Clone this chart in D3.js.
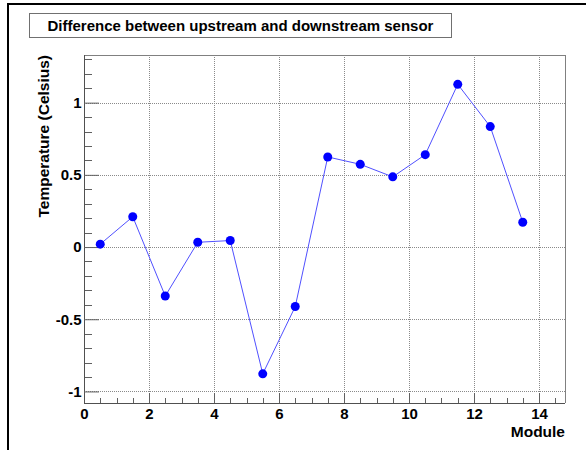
<!DOCTYPE html>
<html>
<head>
<meta charset="utf-8">
<script src="https://cdn.jsdelivr.net/npm/d3@7"></script>
<style>
  html, body { margin: 0; padding: 0; background: #fff; }
  svg { display: block; }
  text { font-family: "Liberation Sans", Arial, Helvetica, sans-serif; font-weight: bold; }
</style>
</head>
<body>
<svg id="chart" width="586" height="450"></svg>
<script>
// ---- data ----
const modules = [0.5, 1.5, 2.5, 3.5, 4.5, 5.5, 6.5, 7.5, 8.5, 9.5, 10.5, 11.5, 12.5, 13.5];
const diffs   = [0.02, 0.21, -0.339, 0.033, 0.045, -0.878, -0.412, 0.624, 0.573, 0.486, 0.640, 1.127, 0.834, 0.172];
const xTicks = [0, 2, 4, 6, 8, 10, 12, 14];
const xTickLabels = ["0", "2", "4", "6", "8", "10", "12", "14"];
const yTicks = [-1, -0.5, 0, 0.5, 1];
const yTickLabels = ["-1", "-0.5", "0", "0.5", "1"];
const titleText = "Difference between upstream and downstream sensor";
const xTitle = "Module";
const yTitle = "Temperature (Celsius)";

(function () {
const svg = d3.select("#chart");
const pL = 84, pR = 565, pT = 55, pB = 403;

const x = d3.scaleLinear().domain([0, 14.8]).range([pL, pR]);
const y = d3.scaleLinear().domain([-1.08, 1.33]).range([pB, pT]);

// canvas border (top & left)
svg.append("rect").attr("x", 7).attr("y", 3).attr("width", 579).attr("height", 2).attr("fill", "#000");
svg.append("rect").attr("x", 7).attr("y", 3).attr("width", 2).attr("height", 447).attr("fill", "#000");

// grid
const grid = svg.append("g").attr("stroke", "#8a8a8a").attr("stroke-width", 1).attr("stroke-dasharray", "1,1");
grid.selectAll("line.vx").data(xTicks.filter(d => d > 0)).enter().append("line")
  .attr("x1", d => Math.round(x(d)) + 0.5).attr("x2", d => Math.round(x(d)) + 0.5)
  .attr("y1", pT).attr("y2", pB);
grid.selectAll("line.hy").data(yTicks).enter().append("line")
  .attr("y1", d => Math.round(y(d)) + 0.5).attr("y2", d => Math.round(y(d)) + 0.5)
  .attr("x1", pL).attr("x2", pR);

// frame top/right
svg.append("line").attr("x1", pL).attr("x2", pR).attr("y1", pT + 0.5).attr("y2", pT + 0.5).attr("stroke", "#808080");
svg.append("line").attr("x1", pR + 0.5).attr("x2", pR + 0.5).attr("y1", pT).attr("y2", pB).attr("stroke", "#808080");

// x minor ticks
const xMinor = d3.range(0, 14.8, 0.5).filter(v => !xTicks.includes(v));
svg.append("g").attr("stroke", "#606060").selectAll("line").data(xMinor).enter().append("line")
  .attr("x1", d => Math.round(x(d)) + 0.5).attr("x2", d => Math.round(x(d)) + 0.5)
  .attr("y1", pB).attr("y2", pB - 5);
// y minor ticks
const yMinor = d3.range(-10, 14).map(v => v / 10).filter(v => y(v) >= pT && y(v) <= pB && !yTicks.some(t => Math.abs(t - v) < 1e-9));
svg.append("g").attr("stroke", "#606060").selectAll("line").data(yMinor).enter().append("line")
  .attr("y1", d => Math.round(y(d)) + 0.5).attr("y2", d => Math.round(y(d)) + 0.5)
  .attr("x1", pL).attr("x2", pL + 8);

// x axis with major ticks
const xAxis = d3.axisBottom(x).tickValues(xTicks).tickFormat((d, i) => xTickLabels[i]).tickSizeInner(-10).tickSizeOuter(0).tickPadding(5);
const gx = svg.append("g").attr("transform", `translate(0,${pB})`).call(xAxis);
gx.select(".domain").attr("stroke", "#505050").attr("d", `M${pL},0.5H${pR}`);
gx.selectAll(".tick line").attr("stroke", "#606060");
gx.selectAll(".tick text").attr("fill", "#000").attr("font-size", 15).attr("font-family", "Liberation Sans, Arial, sans-serif").attr("font-weight", "bold");

// y axis with major ticks
const yAxis = d3.axisLeft(y).tickValues(yTicks).tickFormat((d, i) => yTickLabels[i]).tickSizeInner(-15).tickSizeOuter(0).tickPadding(3);
const gy = svg.append("g").attr("transform", `translate(${pL},0)`).call(yAxis);
gy.select(".domain").attr("stroke", "#505050").attr("d", `M0.5,${pT}V${pB}`);
gy.selectAll(".tick line").attr("stroke", "#606060");
gy.selectAll(".tick text").attr("fill", "#000").attr("font-size", 15).attr("font-family", "Liberation Sans, Arial, sans-serif").attr("font-weight", "bold").attr("x", -2.5);

// data line
svg.append("path").datum(modules.map((m, i) => [m, diffs[i]]))
  .attr("fill", "none").attr("stroke", "#5050ff").attr("stroke-width", 1)
  .attr("d", d3.line().x(d => x(d[0])).y(d => y(d[1])));
// markers
svg.append("g").selectAll("circle").data(modules).enter().append("circle")
  .attr("cx", d => x(d)).attr("cy", (d, i) => y(diffs[i])).attr("r", 4.5).attr("fill", "#0000ff");

// title box
svg.append("rect").attr("x", 29.5).attr("y", 13.5).attr("width", 422).attr("height", 24)
  .attr("fill", "#fff").attr("stroke", "#707070").attr("stroke-width", 1);
svg.append("text").attr("x", 240.5).attr("y", 31).attr("text-anchor", "middle").attr("font-size", 15).text(titleText);

// axis titles
svg.append("text").attr("x", pR).attr("y", 437).attr("text-anchor", "end").attr("font-size", 15.5).text(xTitle);
svg.append("text").attr("transform", `translate(49,${pT}) rotate(-90)`).attr("text-anchor", "end").attr("font-size", 15.5).text(yTitle);
})();
</script>
</body>
</html>
